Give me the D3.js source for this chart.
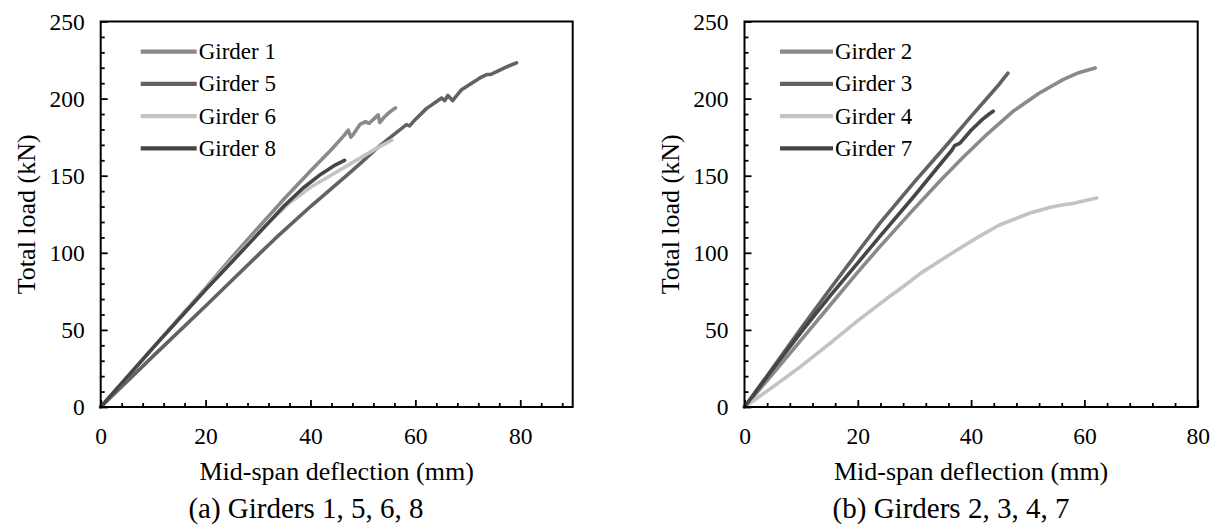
<!DOCTYPE html>
<html>
<head>
<meta charset="utf-8">
<script src="https://cdn.jsdelivr.net/npm/d3@7"></script>
<style>
  html, body { margin: 0; padding: 0; background: #ffffff; }
  svg { display: block; }
</style>
</head>
<body>
<svg id="fig" width="1215" height="531"></svg>
<script>
// Load–deflection curves: [mid-span deflection (mm), total load (kN)]
const girder1 = [[0,0],[5,19],[10,38.5],[15,58],[20,77],[25,97],[28.5,110.5],[35,135],[40,153],[44,167],[46.5,176.5],[47.2,179.5],[47.7,175],[48.3,177.5],[49.5,183.5],[50.5,185],[51.2,184],[52.3,187.5],[52.9,189.5],[53.2,184.5],[54.2,188.5],[55.2,191.5],[56.2,194]];
const girder5 = [[0,0],[10,33],[20,65.5],[30,98.5],[33.2,109],[40,130],[47.2,151],[50,159.5],[53.2,169.4],[56,177],[58.3,183.1],[58.9,182.3],[60,186.5],[62.1,193.5],[65,200.4],[65.6,198.7],[66.2,202],[67.1,198.7],[68.8,205.8],[72.3,213.4],[73.6,215.6],[74.3,215.6],[77.4,220.6],[79.3,223.2]];
const girder6 = [[0,0],[10,38.5],[20,76.5],[25,95],[30,113],[36,132.5],[40,142.5],[44,150.5],[47.5,157.5],[50,162.5],[53,168.5],[55.5,173]];
const girder8 = [[0,0],[10,38.5],[20,76],[25,94],[29.4,110],[35,130.5],[38.6,142],[42,151],[44.5,156.5],[46.5,160]];

const girder2 = [[0,0],[5,21.5],[10,43.5],[15,65.5],[20,87.5],[23.9,104],[29.8,128],[35,148.5],[38.6,162],[43,177.5],[47.5,192],[52,203.5],[56.3,212.5],[59,216.8],[61.9,219.9]];
const girder3 = [[0,0],[5,25.5],[10,51],[15,76],[20,100.5],[23.9,119.3],[30,146],[35,167],[37.5,177.7],[40,188.5],[43,201],[45,209.5],[46.5,216.5]];
const girder4 = [[0,0],[5,13],[10,26.5],[15,41],[20,56],[25,70],[28,78],[31,86.5],[35,96],[38,103],[41.6,111],[45,118],[50.4,125.8],[54,129.5],[56.3,131.2],[58,132],[60,133.8],[62.2,135.5]];
const girder7 = [[0,0],[5,24.5],[10,48.5],[15,71.5],[20,93.5],[23.9,110.6],[30,137],[34,155],[36.6,166.5],[37.1,169.5],[38,171],[40,179.5],[42,186.5],[43.2,190],[43.9,191.8]];

// Axis ticks
const xTicksA = [0, 20, 40, 60, 80];
const xTicksB = [0, 20, 40, 60, 80];
const yTicks = [0, 50, 100, 150, 200, 250];

// Series labels and captions
const namesA = ["Girder 1", "Girder 5", "Girder 6", "Girder 8"];
const namesB = ["Girder 2", "Girder 3", "Girder 4", "Girder 7"];
const captionA = "(a) Girders 1, 5, 6, 8";
const captionB = "(b) Girders 2, 3, 4, 7";
const xTitle = "Mid-span deflection (mm)";
const yTitle = "Total load (kN)";

// Shades shared by both panels (by legend position)
const shades = ["#8a8a8a", "#626262", "#c3c3c3", "#464646"];

const font = "Liberation Serif, Times New Roman, serif";

const svg = d3.select("#fig");
const plotTop = 21.5, plotBottom = 407;

function panel(opts) {
  const g = svg.append("g");
  const x = d3.scaleLinear().domain([0, opts.xMax]).range([opts.left, opts.right]);
  const y = d3.scaleLinear().domain([0, 250]).range([plotBottom, plotTop]);

  // minor ticks
  const xMinor = d3.range(0, opts.xMax + 0.001, 4).filter(v => v % 20 !== 0);
  const yMinor = d3.range(0, 250.001, 10).filter(v => v % 50 !== 0);

  g.append("g").attr("transform", `translate(0,${plotBottom})`)
    .call(d3.axisBottom(x).tickValues(xMinor).tickSize(-4).tickFormat(""))
    .call(a => a.select(".domain").remove());
  g.append("g").attr("transform", `translate(${opts.left},0)`)
    .call(d3.axisLeft(y).tickValues(yMinor).tickSize(-4).tickFormat(""))
    .call(a => a.select(".domain").remove());

  // major ticks with labels
  const xa = g.append("g").attr("transform", `translate(0,${plotBottom})`)
    .call(d3.axisBottom(x).tickValues(opts.xTicks).tickSize(-7).tickPadding(20).tickFormat(d3.format("d")));
  xa.select(".domain").remove();
  const ya = g.append("g").attr("transform", `translate(${opts.left},0)`)
    .call(d3.axisLeft(y).tickValues(yTicks).tickSize(-7).tickPadding(16).tickFormat(d3.format("d")));
  ya.select(".domain").remove();

  g.selectAll(".tick line").attr("stroke", "#000").attr("stroke-width", 1.8);
  g.selectAll("g").attr("font-family", null).attr("font-size", null);
  g.selectAll(".tick text")
    .attr("font-family", font)
    .attr("font-size", 23.5).attr("fill", "#000");

  // series
  const line = d3.line().x(d => x(d[0])).y(d => y(d[1]));
  opts.series.forEach((s, i) => {
    g.append("path").datum(s)
      .attr("d", line)
      .attr("fill", "none")
      .attr("stroke", shades[i])
      .attr("stroke-width", 3.6)
      .attr("stroke-linejoin", "round")
      .attr("stroke-linecap", "round");
  });

  // plot frame
  g.append("rect")
    .attr("x", opts.left).attr("y", plotTop)
    .attr("width", opts.right - opts.left).attr("height", plotBottom - plotTop)
    .attr("fill", "none").attr("stroke", "#000").attr("stroke-width", 2);

  // legend
  opts.names.forEach((n, i) => {
    const ly = 51.7 + i * 32.2;
    g.append("line")
      .attr("x1", opts.legX0).attr("x2", opts.legX1)
      .attr("y1", ly).attr("y2", ly)
      .attr("stroke", shades[i]).attr("stroke-width", 4.2);
    g.append("text")
      .attr("x", opts.legX1 + 2).attr("y", ly + 7.5)
      .attr("font-family", font).attr("font-size", 23)
      .text(n);
  });

  // axis titles
  g.append("text")
    .attr("x", (opts.left + opts.right) / 2).attr("y", 480)
    .attr("text-anchor", "middle")
    .attr("font-family", font).attr("font-size", 26)
    .text(xTitle);
  g.append("text")
    .attr("transform", `translate(${opts.left - 66},${(plotTop + plotBottom) / 2}) rotate(-90)`)
    .attr("text-anchor", "middle")
    .attr("font-family", font).attr("font-size", 26)
    .text(yTitle);

  // caption
  g.append("text")
    .attr("x", opts.capX).attr("y", 518)
    .attr("text-anchor", "middle")
    .attr("font-family", font).attr("font-size", 29)
    .text(opts.caption);
}

panel({
  left: 100.7, right: 572.7, xMax: 90, xTicks: xTicksA,
  series: [girder1, girder5, girder6, girder8], names: namesA,
  legX0: 140.7, legX1: 196.7, capX: 306, caption: captionA
});
panel({
  left: 744.5, right: 1197.7, xMax: 80, xTicks: xTicksB,
  series: [girder2, girder3, girder4, girder7], names: namesB,
  legX0: 780, legX1: 833, capX: 951, caption: captionB
});
</script>
</body>
</html>
